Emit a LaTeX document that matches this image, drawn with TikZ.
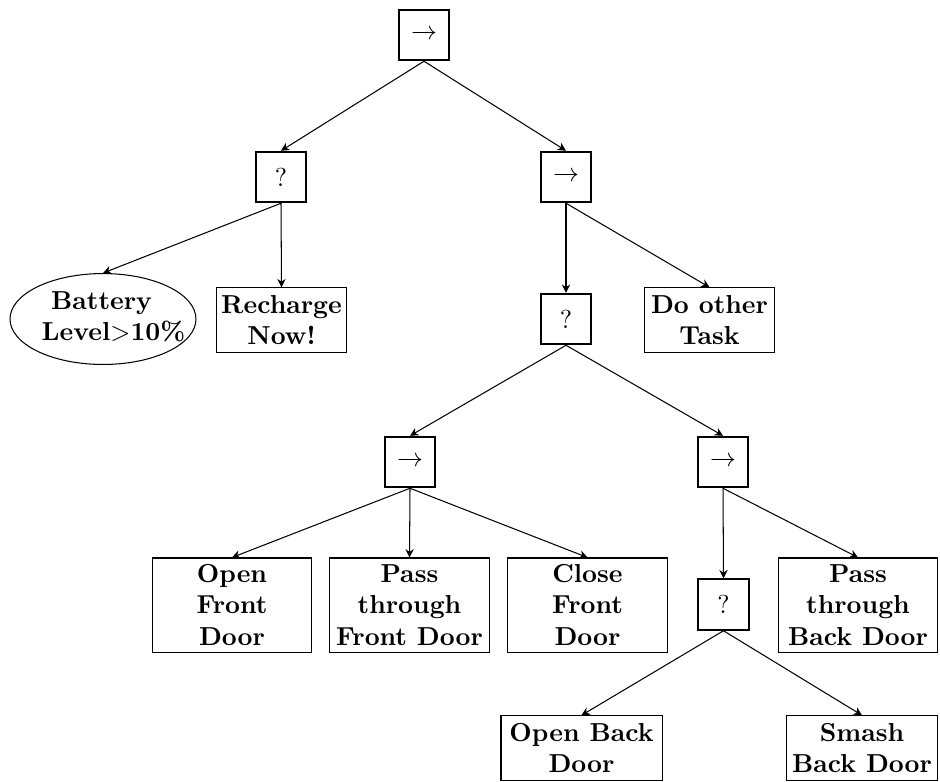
\documentclass[tikz,border=0pt]{standalone}
\usetikzlibrary{arrows.meta,shapes.geometric}
\begin{document}
\begin{tikzpicture}[x=0.385pt,y=-0.385pt,
  ctrl/.style={draw,line width=0.8pt,minimum width=19.4pt,minimum height=19.4pt,inner sep=0pt},
  leaf/.style={draw,line width=0.4pt,align=center,font=\bfseries,inner sep=0pt},
  cond/.style={draw,ellipse,line width=0.4pt,inner sep=0pt,minimum width=71.6pt,minimum height=35pt},
  edge/.style={line width=0.4pt,-{Stealth[length=3.2pt,width=3.2pt]}}]
\useasboundingbox (0,0) rectangle (940,781);
% control nodes
\node[ctrl] (root) at (424,35) {$\rightarrow$};
\node[ctrl] (fb1) at (281,177) {?};
\node[ctrl] (sq1) at (566,177) {$\rightarrow$};
\node[ctrl] (fb2) at (566,319) {?};
\node[ctrl] (sq2) at (410,462) {$\rightarrow$};
\node[ctrl] (sq3) at (723,462) {$\rightarrow$};
\node[ctrl] (fb3) at (723.5,604.5) {?};
% leaves
\node[cond] (bat) at (103,319) {};
\node[font=\bfseries,align=center,inner sep=0pt] (batlabel) at (113.5,317) {Battery\hspace*{9.2pt}\\Level$>$10\%};
\node[leaf,minimum width=50.4pt,minimum height=24.8pt] (rech) at (281.5,320) {Recharge\\Now!};
\node[leaf,minimum width=50.4pt,minimum height=24.8pt] (task) at (709.5,320) {Do other\\Task};
\node[leaf,minimum width=61.5pt,minimum height=36.2pt] (ofd) at (232,605) {Open\\Front\\Door};
\node[leaf,minimum width=61.5pt,minimum height=36.2pt] (pfd) at (409.5,605) {Pass\\through\\Front Door};
\node[leaf,minimum width=61.5pt,minimum height=36.2pt] (cfd) at (587.5,605) {Close\\Front\\Door};
\node[leaf,minimum width=61.5pt,minimum height=36.2pt] (pbd) at (858,605) {Pass\\through\\Back Door};
\node[leaf,minimum width=62pt,minimum height=24.8pt] (obd) at (581.5,748) {Open Back\\Door};
\node[leaf,minimum width=57.8pt,minimum height=24.8pt] (sbd) at (862,748) {Smash\\Back Door};
% edges
\draw[edge] (root.south) -- (fb1.north);
\draw[edge] (root.south) -- (sq1.north);
\draw[edge] (fb1.south) -- (bat.north);
\draw[edge] (fb1.south) -- (rech.north);
\draw[edge] (sq1.south) -- (fb2.north);
\draw[edge] (sq1.south) -- (task.north);
\draw[edge] (fb2.south) -- (sq2.north);
\draw[edge] (fb2.south) -- (sq3.north);
\draw[edge] (sq2.south) -- (ofd.north);
\draw[edge] (sq2.south) -- (pfd.north);
\draw[edge] (sq2.south) -- (cfd.north);
\draw[edge] (sq3.south) -- (fb3.north);
\draw[edge] (sq3.south) -- (pbd.north);
\draw[edge] (fb3.south) -- (obd.north);
\draw[edge] (fb3.south) -- (sbd.north);
\end{tikzpicture}
\end{document}
